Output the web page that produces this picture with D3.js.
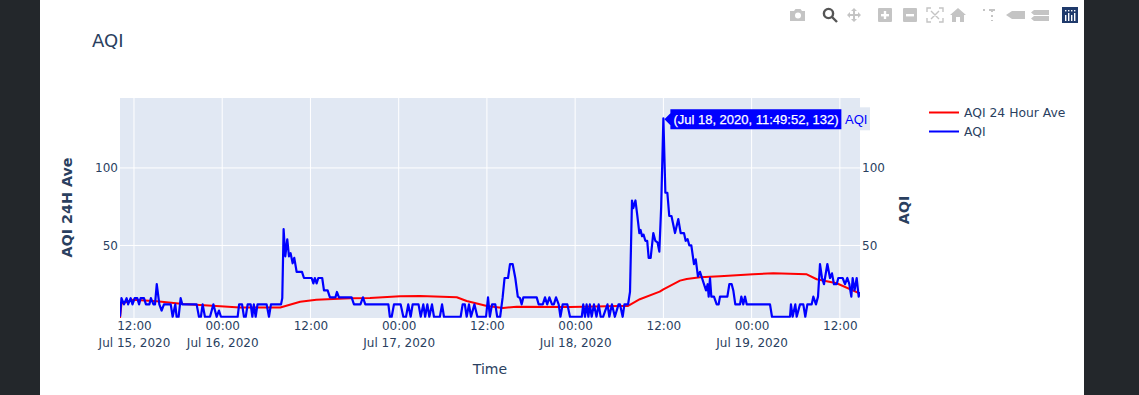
<!DOCTYPE html>
<html><head><meta charset="utf-8">
<script src="https://cdn.jsdelivr.net/npm/d3@7"></script>
<style>
html,body{margin:0;padding:0;background:#23272b;overflow:hidden}
svg{display:block;font-family:"DejaVu Sans",sans-serif}
</style></head><body>
<svg id="c" width="1139" height="395"></svg>
<script>
// hours since 2020-07-15 00:00
const aqiHours=[10.1,10.3,10.64,11.0,11.2,11.55,11.8,12.1,12.45,12.7,12.9,13.36,13.63,14.1,14.3,14.65,14.86,15.1,15.45,15.76,16.08,17.0,17.26,17.62,17.8,18.07,18.35,18.57,20.52,20.84,21.1,21.34,21.65,22.34,22.8,23.24,23.56,23.83,26.1,26.3,26.7,26.96,27.2,27.46,27.87,28.1,28.3,28.55,28.8,30.04,30.36,30.63,32.0,32.17,32.35,32.58,32.85,33.08,33.3,33.58,33.8,34.12,34.85,35.12,36.16,36.4,36.6,36.84,37.07,37.6,37.84,38.34,38.65,39.4,39.6,39.88,41.6,41.92,42.8,43.14,43.46,44.1,
46.6,46.8,47.05,47.36,48.27,48.63,49.0,49.3,49.63,49.9,50.7,51.0,51.35,51.6,51.9,52.17,52.53,52.8,53.6,53.9,54.16,56.43,56.7,57.0,57.25,57.56,57.84,58.3,58.7,59.88,60.15,60.4,60.7,61.14,61.4,61.8,62.14,62.4,62.87,63.14,63.5,63.86,64.2,64.5,64.73,64.95,66.77,67.04,67.6,67.9,68.2,68.5,68.85,69.1,69.4,69.76,70.0,70.3,70.94,71.3,72.9,73.1,73.34,73.56,73.8,74.0,74.25,74.56,74.9,75.2,75.47,75.8,76.4,76.65,77.0,77.4,77.9,
78.1,78.46,78.7,79.2,79.46,79.73,79.9,80.2,80.46,80.73,80.9,81.1,81.3,81.55,81.8,82.0,82.27,82.63,82.9,83.2,83.45,83.7,84.0,84.27,84.54,84.8,85.1,85.58,86.03,86.35,86.8,87.03,87.3,87.53,87.8,88.16,88.4,88.7,88.98,89.25,89.52,89.8,90.02,90.16,90.34,90.52,90.88,91.25,91.52,91.7,92.7,92.97,93.29,93.51,93.78,94.42,94.6,94.87,95.1,95.33,98.5,98.77,101.22,101.35,101.58,101.94,102.13,102.58,103.03,103.3,103.58,104.17,104.39,104.75,105.03,105.3,105.57,105.84,106.3,106.66,106.93,107.2,107.57,107.79,108.38,108.7,109.02,109.29,109.56,109.74,110.0,110.29,110.56,110.74];
const aqiValues=[4,16,12,16,12,16,12,16,16,12,16,16,12,12,16,12,12,25,12,8,12,12,4,12,4,4,16,12,12,4,4,12,4,4,12,4,8,4,4,12,12,4,4,12,12,4,12,4,12,12,4,12,12,16,60.5,43,54,43,45,38.5,42,33,33,29,29,25.5,29,25.5,29,29,21,21,16.5,16.5,20,16.5,16.5,12,12,16.5,12,12,
12,4,4,12,12,4,4,12,4,12,12,4,12,4,12,4,12,4,4,12,4,4,12,12,4,12,4,12,4,4,16.5,4,12,12,4,4,16.5,29,29,38,38,29,17,16,12,16.5,16.5,12,12,16.5,12,16.5,12,12,16.5,12,4,12,12,4,4,12,4,12,4,12,4,12,4,12,4,4,12,4,12,4,12,
12,4,12,12,20,79,74,79,69,58,60,56,57,53,53,42,42,58,53,52,46,75,132,84,84,69,69,58,67,58,58,53,54,50,50,38,41,30,33,29,25,21,25,17,29,17,17,12,12,17,17,25,25,21,12,12,17,12,17,12,12,4,4,12,4,12,4,12,12,4,12,12,17,12,17,38,29,25,38,29,32,25,25,29,29,25,29,25,17,29,21,29,17,20];
const aveHours=[10.1,10.3,11.9,15.1,18.7,23.2,26.4,31.9,34.6,36.8,41.4,44.1,48.2,50.9,55.9,57.25,60,62.2,64.05,71.3,78.1,79.2,80.8,83.5,84,86.26,87.17,88.98,91.7,96.2,98.95,103.5,104.85,107.57,110.74];
const aveValues=[3.2,12.5,15,14,12.3,11,10,10,13.7,15,16,16.1,17.2,17.4,16.6,14.2,11,9.7,10.5,10.3,11,11,15.3,20.2,21.7,27.3,28.4,29.5,30.1,31.4,32,31.4,28.2,25.6,19];
const yTicks=[50,100];
const xTickHours=[12,24,36,48,60,72,84,96,108];
const xTickTimes=["12:00","00:00","12:00","00:00","12:00","00:00","12:00","00:00","12:00"];
const xTickDates=["Jul 15, 2020","Jul 16, 2020","","Jul 17, 2020","","Jul 18, 2020","","Jul 19, 2020",""];
const seriesNames=["AQI 24 Hour Ave","AQI"];
const seriesColors=["#ff0000","#0000ff"];
const hoverLabel="(Jul 18, 2020, 11:49:52, 132)";

const t0=new Date(2020,6,15).getTime();
const toDate=h=>new Date(t0+h*3600000);
const ink="#2a3f5f", plotBg="#e1e8f3";
const svg=d3.select("#c");
const L=120,R=860,T=98,B=318;
const x=d3.scaleTime().domain([toDate(10.1),toDate(110.74)]).range([L,R]);
const y=d3.scaleLinear().domain([3.2,145.1]).range([B,T]);

svg.append("rect").attr("x",40).attr("y",0).attr("width",1044).attr("height",395).attr("fill","#fff");
svg.append("rect").attr("x",L).attr("y",T).attr("width",R-L).attr("height",B-T).attr("fill",plotBg);

// grid
svg.append("g").selectAll("line").data(xTickHours).join("line")
 .attr("x1",d=>x(toDate(d))).attr("x2",d=>x(toDate(d))).attr("y1",T).attr("y2",B).attr("stroke","#fff").attr("stroke-width",1);
svg.append("g").selectAll("line").data(yTicks).join("line")
 .attr("x1",L).attr("x2",R).attr("y1",d=>y(d)).attr("y2",d=>y(d)).attr("stroke","#fff").attr("stroke-width",1);

// axes
const styleAxis=g=>{g.select(".domain").remove();g.selectAll(".tick line").remove();g.selectAll("text").attr("fill",ink).attr("font-family","'DejaVu Sans',sans-serif").attr("font-size",12);};
svg.append("g").attr("transform",`translate(${L},0)`).call(d3.axisLeft(y).tickValues(yTicks).tickSize(0).tickPadding(2)).call(styleAxis);
svg.append("g").attr("transform",`translate(${R},0)`).call(d3.axisRight(y).tickValues(yTicks).tickSize(0).tickPadding(2)).call(styleAxis);
const xAxis=svg.append("g").attr("transform",`translate(0,${B})`)
 .call(d3.axisBottom(x).tickValues(xTickHours.map(toDate)).tickSize(0).tickPadding(3).tickFormat((d,i)=>xTickTimes[i]))
 .call(styleAxis);
xAxis.selectAll(".tick").append("text").attr("y",29).attr("text-anchor","middle").attr("fill",ink)
 .attr("font-family","'DejaVu Sans',sans-serif").attr("font-size",12).text((d,i)=>xTickDates[i]);

// lines
svg.append("clipPath").attr("id","pc").append("rect").attr("x",L).attr("y",T).attr("width",R-L).attr("height",B-T);
const line=d3.line().x(d=>x(toDate(d[0]))).y(d=>y(d[1]));
const gl=svg.append("g").attr("clip-path","url(#pc)");
gl.append("path").datum(d3.zip(aveHours,aveValues)).attr("d",line).attr("fill","none").attr("stroke",seriesColors[0]).attr("stroke-width",2).attr("stroke-linejoin","round");
gl.append("path").datum(d3.zip(aqiHours,aqiValues)).attr("d",line).attr("fill","none").attr("stroke",seriesColors[1]).attr("stroke-width",2.2).attr("stroke-linejoin","round");

// titles
svg.append("text").attr("x",92).attr("y",47).attr("font-size",18).attr("fill",ink).text("AQI");
svg.append("text").attr("x",490).attr("y",374).attr("text-anchor","middle").attr("font-size",14).attr("fill",ink).text("Time");
svg.append("text").attr("transform","translate(72,207.5) rotate(-90)").attr("text-anchor","middle").attr("font-size",14.3).attr("font-weight","bold").attr("fill",ink).text("AQI 24H Ave");
svg.append("text").attr("transform","translate(909,210) rotate(-90)").attr("text-anchor","middle").attr("font-size",14.3).attr("font-weight","bold").attr("fill",ink).text("AQI");

// legend
const lg=svg.append("g").selectAll("g").data(seriesNames).join("g").attr("transform",(d,i)=>`translate(929,${112.5+i*19})`);
lg.append("line").attr("x1",0).attr("x2",30).attr("stroke",(d,i)=>seriesColors[i]).attr("stroke-width",2);
lg.append("text").attr("x",35).attr("y",4.5).attr("font-size",12.35).attr("fill",ink).text(d=>d);

// hover label, anchored on the peak point
const peak=d3.maxIndex(aqiValues);
const px=x(toDate(aqiHours[peak])), py=y(aqiValues[peak]);
const hy=py+1;
const h=svg.append("g");
h.append("rect").attr("x",842).attr("y",hy-12).attr("width",28).attr("height",23).attr("fill",plotBg);
h.append("path").attr("d",`M${px+1},${hy} l6,-6 v-4 h171 v20 h-171 v-4 z`).attr("fill","#0000ff");
h.append("text").attr("x",px+10).attr("y",hy+4.5).attr("font-family","'Liberation Sans',Arial,sans-serif").attr("font-size",13).attr("stroke","#fff").attr("stroke-width",0.25).attr("fill","#fff").text(hoverLabel);
h.append("text").attr("x",845).attr("y",hy+4.5).attr("font-family","'Liberation Sans',Arial,sans-serif").attr("font-size",13).attr("fill","#0000ff").text("AQI");

// modebar
const mb=svg.append("g").attr("fill","#c4c4c4");
mb.append("path").attr("d","M790,11 h4 l1.5,-2 h5 l1.5,2 h3 v10 h-15 z").attr("fill-rule","evenodd");
mb.append("circle").attr("cx",798).attr("cy",15.5).attr("r",3).attr("fill","#fff");
mb.append("circle").attr("cx",828.5).attr("cy",13.5).attr("r",4.6).attr("fill","none").attr("stroke","#555").attr("stroke-width",2.4);
mb.append("line").attr("x1",832).attr("y1",17).attr("x2",837).attr("y2",22).attr("stroke","#555").attr("stroke-width",2.4);
mb.append("path").attr("d","M854,8 l3,3 h-2 v3 h3 v-2 l3,3 l-3,3 v-2 h-3 v3 h2 l-3,3 l-3,-3 h2 v-3 h-3 v2 l-3,-3 l3,-3 v2 h3 v-3 h-2 z");
[885,910].forEach((cx,i)=>{mb.append("rect").attr("x",cx-7).attr("y",8).attr("width",14).attr("height",14).attr("rx",1);
 mb.append("rect").attr("x",cx-4).attr("y",14).attr("width",8).attr("height",2.4).attr("fill","#fff");
 if(i==0)mb.append("rect").attr("x",cx-1.2).attr("y",11).attr("width",2.4).attr("height",8).attr("fill","#fff");});
mb.append("path").attr("d","M927,12 v-4 h4 M939,8 h4 v4 M943,18 v4 h-4 M931,22 h-4 v-4 M931,11 l8,8 M939,11 l-8,8").attr("fill","none").attr("stroke","#c4c4c4").attr("stroke-width",1.4);
mb.append("path").attr("d","M958,8 l8,7 h-2 v7 h-4 v-5 h-4 v5 h-4 v-7 h-2 z");
mb.append("path").attr("d","M983,10 h2 M989,10 h6 M992,10 v2 M992,15 v2 M992,20 v1").attr("fill","none").attr("stroke","#c4c4c4").attr("stroke-width",2);
mb.append("path").attr("d","M1006,15 l6,-4 h13 v8 h-13 z");
mb.append("path").attr("d","M1034,10 h15 v5 h-15 l-3,-2.5 z M1034,16 h15 v5 h-15 l-3,-2.5 z");
mb.append("rect").attr("x",1062).attr("y",7).attr("width",16).attr("height",16).attr("fill","#1f3a6b");
[1065,1068,1071,1074].forEach((dx,i)=>{mb.append("rect").attr("x",dx).attr("y",i%2?13:15).attr("width",1.4).attr("height",i%2?8:6).attr("fill","#fff");
 mb.append("rect").attr("x",dx).attr("y",10).attr("width",1.4).attr("height",1.4).attr("fill","#fff");});
</script>
</body></html>
